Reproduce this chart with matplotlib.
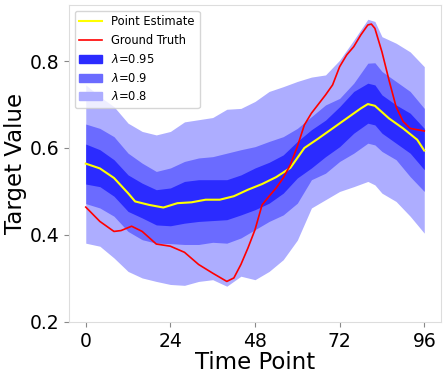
import matplotlib
matplotlib.use('Agg')
import matplotlib.pyplot as plt

# band / point estimate sample positions
t_band = [0, 4, 8, 12, 16, 20, 24, 28, 32, 36, 40, 44, 48, 52, 56, 60, 64, 68, 72, 76, 80, 82, 84, 88, 92, 96]

outer_hi = [0.745, 0.718, 0.695, 0.657, 0.638, 0.630, 0.638, 0.660, 0.665, 0.670, 0.689, 0.691, 0.707,
            0.730, 0.741, 0.753, 0.763, 0.768, 0.802, 0.848, 0.896, 0.891, 0.856, 0.841, 0.821, 0.787]
outer_lo = [0.381, 0.374, 0.347, 0.316, 0.301, 0.293, 0.286, 0.284, 0.293, 0.297, 0.282, 0.305, 0.297,
            0.316, 0.343, 0.388, 0.462, 0.481, 0.500, 0.511, 0.523, 0.515, 0.496, 0.477, 0.443, 0.404]
mid_hi = [0.655, 0.645, 0.626, 0.588, 0.565, 0.546, 0.554, 0.569, 0.577, 0.580, 0.588, 0.596, 0.603,
          0.615, 0.626, 0.645, 0.672, 0.699, 0.714, 0.749, 0.795, 0.796, 0.776, 0.753, 0.730, 0.691]
mid_lo = [0.472, 0.462, 0.443, 0.408, 0.389, 0.381, 0.380, 0.378, 0.378, 0.383, 0.381, 0.393, 0.412,
          0.431, 0.446, 0.473, 0.527, 0.542, 0.569, 0.588, 0.611, 0.607, 0.592, 0.573, 0.534, 0.500]
inner_hi = [0.609, 0.596, 0.573, 0.538, 0.519, 0.504, 0.508, 0.523, 0.527, 0.527, 0.527, 0.538, 0.554,
            0.567, 0.584, 0.615, 0.642, 0.664, 0.695, 0.730, 0.749, 0.745, 0.722, 0.699, 0.680, 0.645]
inner_lo = [0.517, 0.511, 0.489, 0.454, 0.439, 0.423, 0.421, 0.427, 0.431, 0.433, 0.435, 0.446, 0.458,
            0.473, 0.496, 0.531, 0.554, 0.580, 0.603, 0.634, 0.657, 0.653, 0.634, 0.611, 0.588, 0.550]

t_est = [0, 4, 8, 12, 14, 18, 22, 26, 30, 34, 38, 42, 46, 50, 54, 58, 62, 66, 70, 74, 78, 80, 82, 86, 90, 94, 96]
point_est = [0.564, 0.553, 0.531, 0.496, 0.477, 0.469, 0.463, 0.473, 0.475, 0.481, 0.481, 0.489, 0.504,
             0.517, 0.533, 0.554, 0.600, 0.622, 0.645, 0.668, 0.691, 0.701, 0.697, 0.668, 0.645, 0.619, 0.594]

t_gt = [0, 4, 8, 10, 13, 16, 20, 24, 28, 32, 36, 40, 42, 44, 46, 48, 50, 52, 54, 56, 58, 60, 62, 64,
        68, 70, 72, 74, 76, 78, 80, 81, 82, 84, 86, 88, 90, 92, 96]
ground_truth = [0.464, 0.431, 0.408, 0.410, 0.420, 0.408, 0.379, 0.374, 0.360, 0.332, 0.312, 0.293, 0.301,
                0.332, 0.370, 0.412, 0.469, 0.489, 0.508, 0.531, 0.561, 0.603, 0.653, 0.680, 0.722, 0.745,
                0.787, 0.814, 0.833, 0.860, 0.883, 0.885, 0.875, 0.821, 0.756, 0.695, 0.661, 0.645, 0.639]

levels = ['0.95', '0.9', '0.8']
band_colors = ['#2b2bff', '#6b6bff', '#adadff']

fig = plt.figure(figsize=(4.47, 3.80), dpi=100)
ax = fig.add_axes([0.154, 0.153, 0.833, 0.834])

ax.fill_between(t_band, outer_lo, outer_hi, color=band_colors[2], lw=0)
ax.fill_between(t_band, mid_lo, mid_hi, color=band_colors[1], lw=0)
ax.fill_between(t_band, inner_lo, inner_hi, color=band_colors[0], lw=0)
ax.plot(t_est, point_est, color='yellow', lw=1.5, label='Point Estimate')
ax.plot(t_gt, ground_truth, color='red', lw=1.2, label='Ground Truth')

# legend proxies for the bands
for lv, c in zip(levels, band_colors):
    ax.fill_between([], [], [], color=c, label=r'$\lambda$=' + lv)

ax.legend(loc='upper left', fontsize=8.3)
ax.set_xticks([0, 24, 48, 72, 96])
ax.set_yticks([0.2, 0.4, 0.6, 0.8])
ax.set_ylim(0.2, 0.929)
ax.tick_params(labelsize=13.5, color='#888888')
ax.set_xlabel('Time Point', fontsize=16.5, labelpad=0)
ax.set_ylabel('Target Value', fontsize=16.5, labelpad=2)
for s in ax.spines.values():
    s.set_color('#dddddd')

fig.savefig('out.png', dpi=100)
